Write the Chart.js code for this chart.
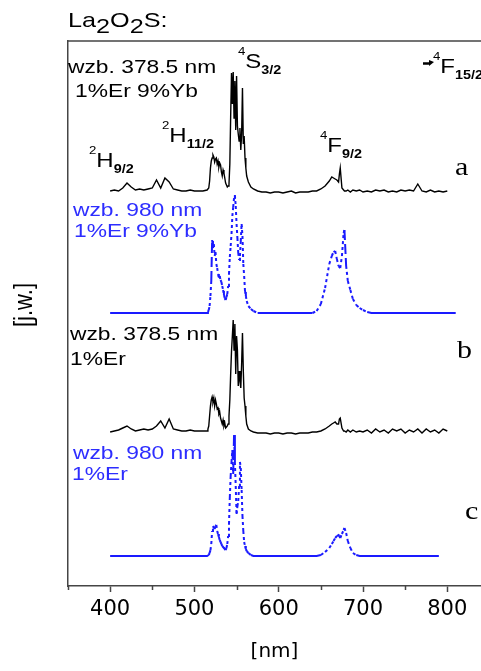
<!DOCTYPE html>
<html>
<head>
<meta charset="utf-8">
<script src="https://cdn.jsdelivr.net/npm/chart.js@4"></script>
<style>
  html, body { margin: 0; padding: 0; background: #fff; }
  #wrap { width: 481px; height: 671px; position: relative; }
</style>
</head>
<body>
<div id="wrap"><canvas id="spectra"></canvas></div>
<script>
// wavelength grid [nm]
const wavelengths = [
  400,405,410,415,420,425,430,435,440,445,450,455,460,465,470,475,480,485,490,495,500,505,510,
  515,516,517,518,519,520,521,522,523,524,525,526,527,528,529,530,531,532,533,534,535,536,537,538,
  539,540,541,542,543,544,545,546,547,548,549,550,551,552,553,554,555,556,557,558,559,560,561,562,
  564,567,570,575,
  580,585,590,595,600,605,610,615,620,625,630,635,640,
  645,650,655,660,663,665,667,669,671,672,673,675,677,678,680,682,685,688,692,696,700,
  705,710,715,720,725,730,735,740,745,750,755,760,765,770,775,780,785,790,795,800,805,810
];

// a: wzb. 378.5 nm, 1%Er 9%Yb (stacked, arbitrary units)
const specA = [
  395,396,395,398,403,399,396,397,396,397,398,406,398,408,404,397,396,395,395,396,395,395,395,
  396,396,398,405,418,425,428,431,429,424,427,428,422,425,419,423,421,414,410,416,413,408,403,401,
  399,400,402,422,470,513,482,514,468,505,456,510,460,452,445,458,436,452,498,442,450,428,418,410,
  404,399,397,395,
  394,394,393,394,394,393,394,395,393,394,394,394,395,
  395,397,400,405,409,408,407,406,404,412,418,398,396,395,395,396,394,396,395,396,394,
  395,394,396,395,396,394,395,394,396,395,396,395,402,395,394,396,394,395,394,395,null,null
];

// b: wzb. 980 nm, 1%Er 9%Yb
const specB = [
  273,273,273,273,273,273,273,273,273,273,273,273,273,273,273,273,273,273,273,273,273,273,273,
  273,274,276,280,290,305,346,338,342,330,334,322,318,312,308,310,306,304,300,296,291,288,286,289,
  292,300,312,329,340,352,370,379,388,391,380,362,348,333,326,330,345,362,350,322,310,295,290,285,
  280,277,275,273,
  273,273,273,273,273,273,273,273,273,273,273,273,273,
  275,282,298,322,330,334,335,327,320,319,318,330,353,356,320,305,296,287,281,278,276,
  274,273,273,273,273,273,273,273,273,273,273,273,273,273,273,273,273,273,273,273,273,273
];

// c: wzb. 378.5 nm, 1%Er
const specC = [
  154,155,156,158,160,157,155,156,157,156,157,160,165,158,167,157,156,155,155,156,155,155,155,
  155,157,160,170,180,186,189,184,188,180,186,182,177,178,172,174,168,165,162,166,160,163,158,159,
  160,162,170,186,212,235,250,266,236,262,212,250,236,200,215,205,198,222,253,215,188,180,170,162,
  157,155,154,153,
  153,153,152,153,153,152,153,153,152,153,153,153,154,
  154,155,157,160,162,163,164,162,162,167,168,158,155,155,154,156,154,156,154,155,154,
  156,153,157,154,156,153,157,155,157,153,156,154,157,153,157,154,156,153,157,155,null,null
];

// d: wzb. 980 nm, 1%Er
const specD = [
  30,30,30,30,30,30,30,30,30,30,30,30,30,30,30,30,30,30,30,30,30,30,30,
  30,30,31,33,36,42,55,60,58,57,60,61,55,52,49,46,44,42,40,39,38,37,36,38,
  42,50,62,89,110,124,136,112,151,124,100,72,80,85,100,124,118,96,70,55,44,40,37,35,
  33,31,30,30,
  30,30,30,30,30,30,30,30,30,30,30,30,30,
  30,31,34,38,42,45,48,50,51,50,48,52,56,58,53,45,38,33,31,30,30,
  30,30,30,30,30,30,30,30,30,30,30,30,30,30,30,30,30,30,null,null,null,null
];

const xTicks = [400, 500, 600, 700, 800];
const xMinorTicks = [350, 450, 550, 650, 750];

const SANS = '"Liberation Sans", Arial, sans-serif';
const SERIF = '"Liberation Serif", "Times New Roman", serif';
const AXIS = '#454545';
const BLUE = '#1a1aff';
const BLUE_TEXT = '#2d2dff';

Chart.defaults.font.family = '"DejaVu Sans", sans-serif';
Chart.defaults.color = '#000';

function series(values) {
  return wavelengths.map((x, i) => ({ x, y: values[i] }));
}

// blue traces: flat parts solid, slopes dotted, steep jumps dashed;
// on sloped parts the dash restarts at every segment
function blueSegment(values) {
  const rise = c => Math.abs(values[c.p1DataIndex] - values[c.p0DataIndex]);
  return {
    borderDash: c => {
      const d = rise(c);
      if (d < 2) return [];
      return d < 30 ? [3, 3] : [10, 4];
    },
    borderDashOffset: c => (rise(c) < 2 ? 0 : (c.p0DataIndex % 2) * 0.01 + 0.01)
  };
}

// text in the original figure is stretched sideways
function drawRun(ctx, x, y, parts, color) {
  ctx.save();
  ctx.translate(x, y);
  ctx.scale(1.2, 1);
  ctx.fillStyle = color;
  ctx.textAlign = 'left';
  ctx.textBaseline = 'alphabetic';
  let cx = 0;
  parts.forEach(([t, font, dy]) => {
    ctx.font = font;
    ctx.fillText(t, cx, dy);
    cx += ctx.measureText(t).width;
  });
  ctx.restore();
}

function level(ctx, x, y, sup, main, sub) {
  drawRun(ctx, x, y, [
    [sup, `11px ${SANS}`, -13],
    [main, `20px ${SANS}`, 0],
    [sub, `bold 12px ${SANS}`, 6]
  ], '#000');
}

const decor = {
  id: 'decor',
  afterDraw(chart) {
    const { ctx, chartArea: a, scales: { x } } = chart;
    ctx.save();
    ctx.strokeStyle = AXIS;
    ctx.lineWidth = 1.5;
    ctx.beginPath();
    ctx.moveTo(a.left, a.top);
    ctx.lineTo(chart.width, a.top);
    xMinorTicks.forEach(v => {
      const px = Math.round(x.getPixelForValue(v)) + 0.5;
      ctx.moveTo(px, a.bottom);
      ctx.lineTo(px, a.bottom + 4);
    });
    ctx.stroke();

    // arrow before 4F15/2
    ctx.strokeStyle = '#000';
    ctx.lineWidth = 2.5;
    ctx.beginPath();
    ctx.moveTo(423, 63.5);
    ctx.lineTo(430, 63.5);
    ctx.stroke();
    ctx.fillStyle = '#000';
    ctx.beginPath();
    ctx.moveTo(429, 60);
    ctx.lineTo(434, 62);
    ctx.lineTo(429, 66);
    ctx.fill();
    ctx.restore();

    const big = `21px ${SANS}`;
    drawRun(ctx, 68, 27, [['La', big, 0], ['2', big, 6], ['O', big, 0], ['2', big, 6], ['S:', big, 0]], '#000');

    const f = `19px ${SANS}`;
    drawRun(ctx, 68, 73, [['wzb. 378.5 nm', f, 0]], '#000');
    drawRun(ctx, 75, 97, [['1%Er 9%Yb', f, 0]], '#000');
    drawRun(ctx, 73, 216, [['wzb. 980 nm', f, 0]], BLUE_TEXT);
    drawRun(ctx, 74, 237, [['1%Er 9%Yb', f, 0]], BLUE_TEXT);
    drawRun(ctx, 70, 340, [['wzb. 378.5 nm', f, 0]], '#000');
    drawRun(ctx, 70, 365, [['1%Er', f, 0]], '#000');
    drawRun(ctx, 73, 459, [['wzb. 980 nm', f, 0]], BLUE_TEXT);
    drawRun(ctx, 72, 480, [['1%Er', f, 0]], BLUE_TEXT);

    level(ctx, 89, 167, '2', 'H', '9/2');
    level(ctx, 162, 142, '2', 'H', '11/2');
    level(ctx, 238, 68, '4', 'S', '3/2');
    level(ctx, 320, 152, '4', 'F', '9/2');
    level(ctx, 433, 73, '4', 'F', '15/2');

    const serif = `25px ${SERIF}`;
    drawRun(ctx, 455, 175, [['a', serif, 0]], '#000');
    drawRun(ctx, 457, 358, [['b', serif, 0]], '#000');
    drawRun(ctx, 465, 519, [['c', serif, 0]], '#000');

    // y axis title
    ctx.save();
    ctx.translate(25, 305);
    ctx.scale(1.2, 1);
    ctx.rotate(-Math.PI / 2);
    ctx.font = `22px ${SANS}`;
    ctx.fillStyle = '#000';
    ctx.textAlign = 'center';
    ctx.textBaseline = 'middle';
    ctx.fillText('[j.w.]', 0, 0);
    ctx.restore();
  }
};

new Chart(document.getElementById('spectra'), {
  type: 'line',
  data: {
    datasets: [
      { label: 'a', data: series(specA), borderColor: '#000', borderWidth: 1.4 },
      { label: 'b', data: series(specB), borderColor: BLUE, borderWidth: 2, segment: blueSegment(specB) },
      { label: 'c', data: series(specC), borderColor: '#000', borderWidth: 1.4 },
      { label: 'd', data: series(specD), borderColor: BLUE, borderWidth: 2, segment: blueSegment(specD) }
    ]
  },
  options: {
    responsive: true,
    maintainAspectRatio: false,
    animation: false,
    elements: { point: { radius: 0 }, line: { tension: 0 } },
    layout: { padding: { top: 41, left: 0, right: 0, bottom: 0 } },
    plugins: { legend: { display: false }, tooltip: { enabled: false } },
    scales: {
      x: {
        type: 'linear',
        min: 350,
        max: 840,
        afterBuildTicks: scale => { scale.ticks = xTicks.map(value => ({ value })); },
        afterFit: scale => { scale.height = 85; },
        grid: { drawOnChartArea: false, drawTicks: true, tickLength: 6, tickColor: AXIS, tickWidth: 1.5 },
        border: { display: true, color: AXIS, width: 1.5 },
        ticks: { font: { size: 21 }, padding: 5, maxRotation: 0 },
        title: { display: true, text: '[nm]', font: { size: 20 }, padding: { top: 0, bottom: 7 } }
      },
      y: {
        min: 0,
        max: 545,
        afterFit: scale => { scale.width = 68; },
        grid: { drawOnChartArea: false, drawTicks: false },
        border: { display: true, color: AXIS, width: 1.5 },
        ticks: { display: false }
      }
    }
  },
  plugins: [decor]
});
</script>
</body>
</html>
